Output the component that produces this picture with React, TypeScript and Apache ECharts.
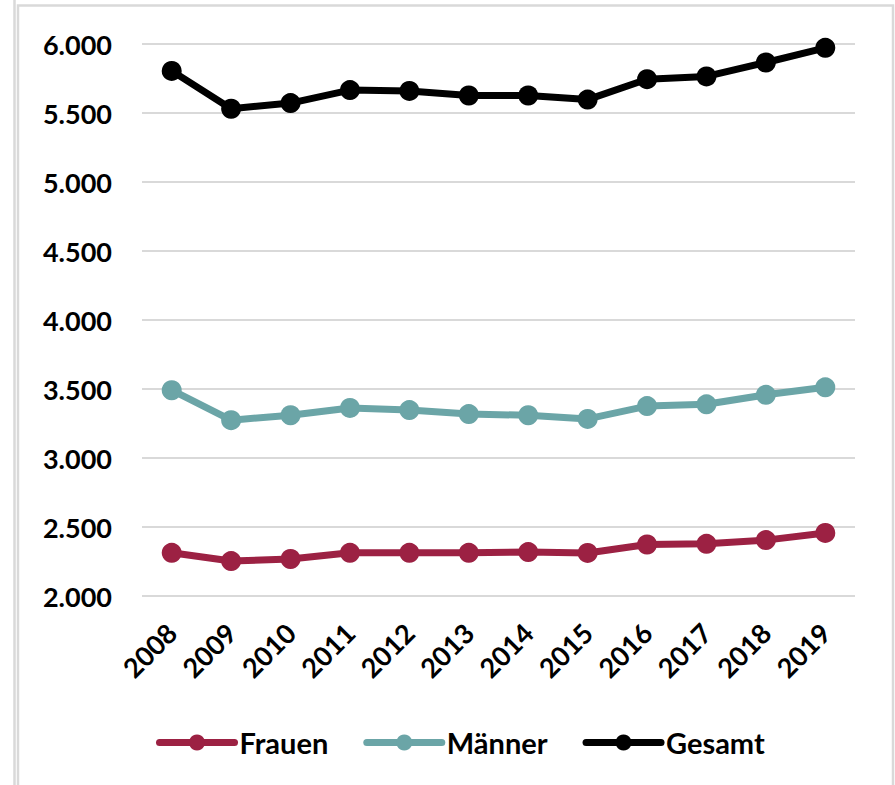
import React, { useEffect, useRef } from "react";
import * as echarts from "echarts";

const years = ["2008", "2009", "2010", "2011", "2012", "2013", "2014", "2015", "2016", "2017", "2018", "2019"];
const frauen = [2313, 2253, 2268, 2313, 2313, 2313, 2318, 2312, 2373, 2378, 2405, 2457];
const maenner = [3491, 3274, 3310, 3363, 3347, 3318, 3310, 3283, 3376, 3389, 3458, 3512];
const gesamt = [5805, 5531, 5572, 5666, 5660, 5627, 5627, 5597, 5745, 5765, 5866, 5972];
const seriesNames = ["Frauen", "Männer", "Gesamt"];
const seriesColors = ["#9c2143", "#6ba5a7", "#000000"];
const yMin = 2000;
const yMax = 6000;
const yStep = 500;

const FONT = "Lato";

function fmt(v: number): string {
  const s = String(Math.round(v));
  return s.replace(/\B(?=(\d{3})+(?!\d))/g, ".");
}

export default function App() {
  const ref = useRef<HTMLDivElement>(null);
  useEffect(() => {
    if (!ref.current) return;
    const chart = echarts.init(ref.current, null, { renderer: "svg" });
    const data = [frauen, maenner, gesamt];
    chart.setOption({
      animation: false,
      backgroundColor: "#ffffff",
      textStyle: { fontFamily: FONT },
      graphic: [
        {
          type: "line",
          shape: { x1: 14.5, y1: 0, x2: 14.5, y2: 785 },
          style: { stroke: "#d9d9d9", lineWidth: 2.5 },
        },
        {
          type: "rect",
          shape: { x: 18, y: 5.5, width: 875, height: 800 },
          style: { fill: "none", stroke: "#d9d9d9", lineWidth: 2.5 },
        },
      ],
      grid: { left: 142, right: 40, top: 44, bottom: 189, containLabel: false },
      xAxis: {
        type: "category",
        data: years,
        boundaryGap: true,
        axisLine: { show: false },
        axisTick: { show: false },
        axisLabel: {
          rotate: 45,
          margin: 32,
          color: "#000",
          fontFamily: FONT,
          fontWeight: "bold",
          fontSize: 27,
          interval: 0,
        },
      },
      yAxis: {
        type: "value",
        min: yMin,
        max: yMax,
        interval: yStep,
        axisLine: { show: false },
        axisTick: { show: false },
        splitLine: { show: true, lineStyle: { color: "#d9d9d9", width: 2 } },
        axisLabel: {
          margin: 30,
          color: "#000",
          fontFamily: FONT,
          fontWeight: "bold",
          fontSize: 27,
          formatter: (v: number) => fmt(v),
        },
      },
      legend: {
        data: seriesNames,
        left: 151,
        top: 723,
        itemWidth: 75,
        itemHeight: 20,
        itemGap: 35,
        lineStyle: { width: 7, cap: "round" },
        textStyle: { color: "#000", fontFamily: FONT, fontWeight: "bold", fontSize: 29 },
      },
      series: seriesNames.map((name, i) => ({
        name,
        type: "line",
        data: data[i],
        symbol: "circle",
        symbolSize: 20,
        color: seriesColors[i],
        lineStyle: { width: 7, color: seriesColors[i], cap: "round" },
        itemStyle: { color: seriesColors[i] },
        z: 2 + i,
      })),
    });
    return () => chart.dispose();
  }, []);
  return (
    <div
      ref={ref}
      style={{ position: "absolute", left: 0, top: 0, width: 895, height: 785 }}
    />
  );
}
